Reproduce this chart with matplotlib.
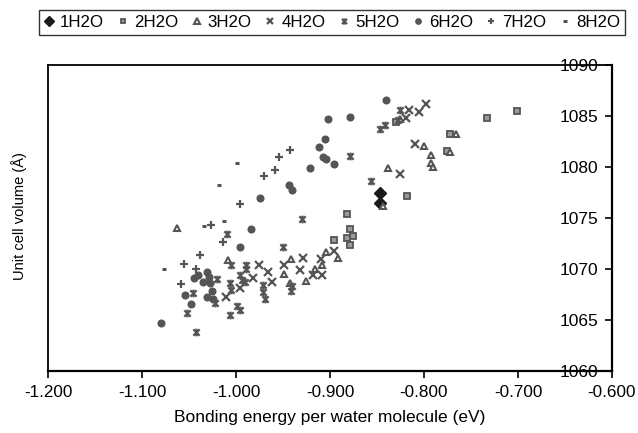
import numpy as np
import matplotlib
matplotlib.use('Agg')
import matplotlib.pyplot as plt
from matplotlib.path import Path

plt.rcParams['font.family'] = ['Liberation Sans', 'DejaVu Sans']

# values (energy in eV, volume in A^3)
e1 = [-0.847, -0.847]
v1 = [1077.5, 1076.5]

e2 = [-0.882, -0.879, -0.882, -0.876, -0.879, -0.896, -0.818, -0.772, -0.775,
      -0.733, -0.701, -0.830]
v2 = [1075.4, 1073.9, 1073.0, 1073.2, 1072.4, 1072.8, 1077.2, 1083.2, 1081.6,
      1084.8, 1085.5, 1084.4]

e3 = [-0.844, -0.838, -0.800, -0.793, -0.793, -0.790, -0.766, -0.772, -0.892,
      -1.063, -1.008, -0.941, -0.949, -0.943, -0.925, -0.916, -0.909, -0.904,
      -0.826]
v3 = [1076.2, 1079.9, 1082.1, 1081.2, 1080.4, 1080.0, 1083.2, 1081.5, 1071.1,
      1074.0, 1070.9, 1071.0, 1069.5, 1068.6, 1068.8, 1070.0, 1070.4, 1071.7,
      1084.7]

e4 = [-0.816, -0.805, -0.798, -0.819, -0.810, -0.825, -0.896, -0.929, -0.932,
      -0.949, -0.918, -0.908, -0.910, -0.982, -0.966, -0.962, -1.011, -0.976,
      -0.996]
v4 = [1085.6, 1085.4, 1086.2, 1084.8, 1082.3, 1079.3, 1071.8, 1071.1, 1069.9,
      1070.4, 1069.4, 1069.4, 1071.0, 1069.1, 1069.7, 1068.7, 1067.3, 1070.4,
      1068.1]

e5 = [-0.825, -0.828, -0.847, -0.841, -0.879, -0.856, -0.930, -0.950, -1.010,
      -1.046, -1.052, -1.043, -1.020, -1.022, -1.006, -1.005, -0.999, -0.996,
      -1.006, -1.005, -0.996, -0.994, -0.990, -0.989, -0.989, -0.971, -0.971,
      -0.969, -0.940, -0.941]
v5 = [1085.6, 1084.6, 1083.7, 1084.1, 1081.1, 1078.6, 1074.9, 1072.2, 1073.4,
      1067.6, 1065.7, 1063.8, 1069.0, 1066.7, 1068.6, 1067.9, 1066.4, 1066.0,
      1065.5, 1070.4, 1069.4, 1068.9, 1068.7, 1070.4, 1070.0, 1068.4, 1067.7,
      1067.1, 1068.3, 1067.8]

e6 = [-0.840, -0.902, -0.879, -0.905, -0.912, -0.907, -0.904, -0.896, -0.921,
      -0.944, -0.940, -0.974, -0.984, -0.996, -1.054, -1.048, -1.080, -1.045,
      -1.040, -1.031, -1.029, -1.035, -1.028, -1.026, -1.031, -1.024]
v6 = [1086.6, 1084.7, 1084.9, 1082.7, 1082.0, 1081.0, 1080.8, 1080.3, 1079.9,
      1078.2, 1077.7, 1077.0, 1073.9, 1072.2, 1067.5, 1066.6, 1064.7, 1069.1,
      1069.4, 1069.7, 1069.2, 1068.7, 1068.6, 1067.8, 1067.3, 1067.1]

e7 = [-0.943, -0.954, -0.959, -0.970, -0.996, -1.027, -1.014, -1.038, -1.055,
      -1.043, -1.059]
v7 = [1081.7, 1081.0, 1079.7, 1079.1, 1076.4, 1074.3, 1072.6, 1071.4, 1070.5,
      1070.0, 1068.5]

e8 = [-0.999, -1.018, -1.034, -1.013, -1.077]
v8 = [1080.4, 1078.2, 1074.2, 1074.7, 1070.0]

xticks = [-1.2, -1.1, -1.0, -0.9, -0.8, -0.7, -0.6]
yticks = [1060, 1065, 1070, 1075, 1080, 1085, 1090]

# asterisk marker: x plus a vertical bar
star = Path([(-1, -1), (1, 1), (-1, 1), (1, -1), (0, -1.2), (0, 1.2)],
            [Path.MOVETO, Path.LINETO, Path.MOVETO, Path.LINETO,
             Path.MOVETO, Path.LINETO])

g = '#555555'
fig = plt.figure(figsize=(6.38, 4.33), dpi=100)
ax = fig.add_axes([48 / 638, 1 - 371 / 433, 564 / 638, 306 / 433])

ax.plot(e1, v1, 'D', ms=6.5, color='#1a1a1a', ls='none', label='1H2O')
ax.plot(e2, v2, 's', ms=3.8, mfc='#9a9a9a', mec=g, mew=1.3, ls='none', label='2H2O')
ax.plot(e3, v3, '^', ms=5, mfc='white', mec=g, mew=1.5, ls='none', label='3H2O')
ax.plot(e4, v4, 'x', ms=5.2, mec=g, mew=1.6, ls='none', label='4H2O')
ax.plot(e5, v5, marker=star, ms=5.5, mec=g, mew=1.6, ls='none', label='5H2O')
ax.plot(e6, v6, 'o', ms=4.8, color=g, ls='none', label='6H2O')
ax.plot(e7, v7, '+', ms=6, mec=g, mew=1.6, ls='none', label='7H2O')
ax.plot(e8, v8, '_', ms=3.5, mec=g, mew=2.2, ls='none', label='8H2O')

ax.set_xlim(-1.2, -0.6)
ax.set_ylim(1060, 1090)
ax.set_xticks(xticks)
ax.set_xticklabels(['%.3f' % t for t in xticks])
ax.set_yticks(yticks)
ax.set_yticklabels([str(t) for t in yticks])

for s in ax.spines.values():
    s.set_linewidth(1.3)
ax.spines['bottom'].set_linewidth(1.6)
ax.spines['right'].set_linewidth(1.6)

ax.tick_params(axis='x', direction='out', length=5, width=1.2, labelsize=12.3, pad=5)
ax.yaxis.tick_right()
ax.tick_params(axis='y', direction='in', length=5, width=1.2, labelsize=12.5, pad=-10)
for lab in ax.get_yticklabels():
    lab.set_horizontalalignment('right')

ax.set_xlabel('Bonding energy per water molecule (eV)', fontsize=12.5, labelpad=7)
fig.text(19 / 638, 1 - 216 / 433, 'Unit cell volume (Å)', rotation=90,
         ha='center', va='center', fontsize=10.5)

leg = fig.legend(loc='upper center', bbox_to_anchor=(332 / 638, 1 - 10 / 433),
                 ncol=8, fontsize=12.2, frameon=True, fancybox=False,
                 handlelength=0.6, handletextpad=0.35, columnspacing=0.8,
                 borderpad=0.3, borderaxespad=0, markerscale=0.8)
leg.get_frame().set_edgecolor('black')
leg.get_frame().set_linewidth(1.0)

fig.savefig('out.png', dpi=100)
